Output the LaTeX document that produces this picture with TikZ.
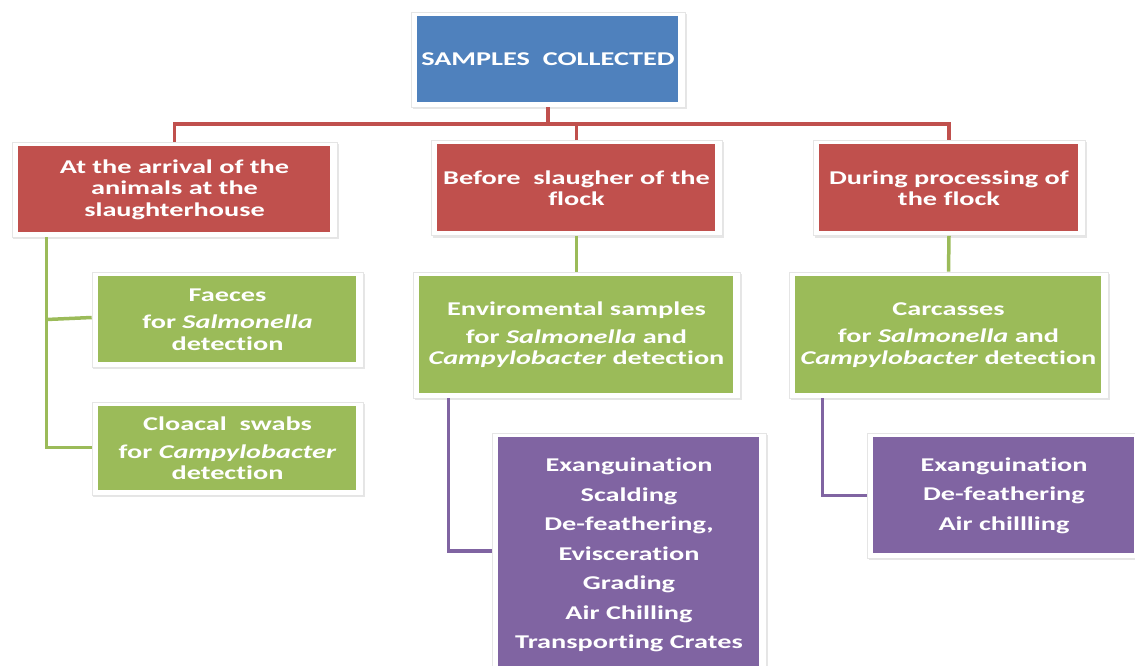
\documentclass[tikz,border=0pt]{standalone}
\usepackage{fontspec}
\setmainfont{Carlito}[FakeStretch=1.45,Ligatures=NoCommon]
\usetikzlibrary{shadows}
\definecolor{topblue}{HTML}{4F81BD}
\definecolor{boxred}{HTML}{C0504D}
\definecolor{boxgreen}{HTML}{9BBB59}
\definecolor{boxpurple}{HTML}{8064A2}

\begin{document}
\begin{tikzpicture}[x=1bp,y=-1bp,
  box/.style 2 args={minimum width=#1,minimum height=#2,inner sep=0bp,
    fill=white,draw=black!10,line width=0.6bp,text=white,align=center,
    font=\bfseries\fontsize{19.5bp}{21.5bp}\selectfont,
    drop shadow={shadow xshift=1.5bp,shadow yshift=-2bp,opacity=0.2}},
  tint/.style={path picture={\fill[#1]
    ([shift={(6bp,-4bp)}]path picture bounding box.north west) rectangle
    ([shift={(-7bp,5bp)}]path picture bounding box.south east);}},
  redline/.style={draw=boxred,line width=3.5bp},
  greenline/.style={draw=boxgreen,line width=3.5bp},
  purpleline/.style={draw=boxpurple,line width=3.5bp}]%
% samples collected, 1bp = 1px of the page
\useasboundingbox (0,0) rectangle (1135,666);
\clip (0,0) rectangle (1135,666);
\def\gap{\\[6bp]}
\def\pgap{\\[8bp]}
\node[box={274bp}{95bp},tint=topblue] (top) at (548,59.5) {SAMPLES~ COLLECTED};
\node[box={325bp}{95bp},tint=boxred] (arrival) at (174.5,189.5)
 {At the arrival of the\\animals at the\\slaughterhouse};
\node[box={291bp}{95bp},tint=boxred] (before) at (576.5,188)
 {Before~ slaugher of the\\flock};
\node[box={272bp}{95bp},tint=boxred] (during) at (949,188)
 {During processing of\\the flock};
\node[box={271bp}{95bp},tint=boxgreen] (faeces) at (227.5,319.5)
 {Faeces\gap for \textit{Salmonella}\\detection};
\node[box={271bp}{93bp},tint=boxgreen] (cloacal) at (227.5,448.5)
 {Cloacal~ swabs\gap for \textit{Campylobacter}\\detection};
\node[box={327bp}{126bp},tint=boxgreen] (enviro) at (576.5,335)
 {Enviromental samples\gap for \textit{Salmonella} and\\\textit{Campylobacter} detection};
\node[box={319bp}{126bp},tint=boxgreen] (carcass) at (948.5,335)
 {Carcasses\gap for \textit{Salmonella} and\\\textit{Campylobacter} detection};
\node[box={274bp}{244bp},tint=boxpurple] (steps) at (629,555)
 {Exanguination\pgap Scalding\pgap De-feathering,\pgap Evisceration\pgap
  Grading\pgap Air Chilling\pgap Transporting Crates};
\node[box={274bp}{125bp},tint=boxpurple] (carsteps) at (1004,495.5)
 {Exanguination\pgap De-feathering\pgap Air chillling};
% red bus
\coordinate (bus) at (548,124);
\draw[redline] (top.south) -- (bus);
\draw[redline] (arrival.north) |- (bus) -| (during.north);
\draw[redline] (before.north) -- (before.north |- bus);
% green links
\draw[greenline] ([xshift=35bp]arrival.south west) |- ([yshift=1bp]cloacal.west);
\draw[greenline] ([xshift=35bp]arrival.south west |- faeces.west)
 -- ([yshift=2bp]faeces.west);
\draw[greenline] (before.south) -- (enviro.north);
\draw[greenline] (during.south) -- (carcass.north);
% purple links
\draw[purpleline] ([xshift=36bp]enviro.south west) |- ([yshift=4bp]steps.west);
\draw[purpleline] ([xshift=34bp]carcass.south west) |- (carsteps.west);
\end{tikzpicture}
\end{document}
